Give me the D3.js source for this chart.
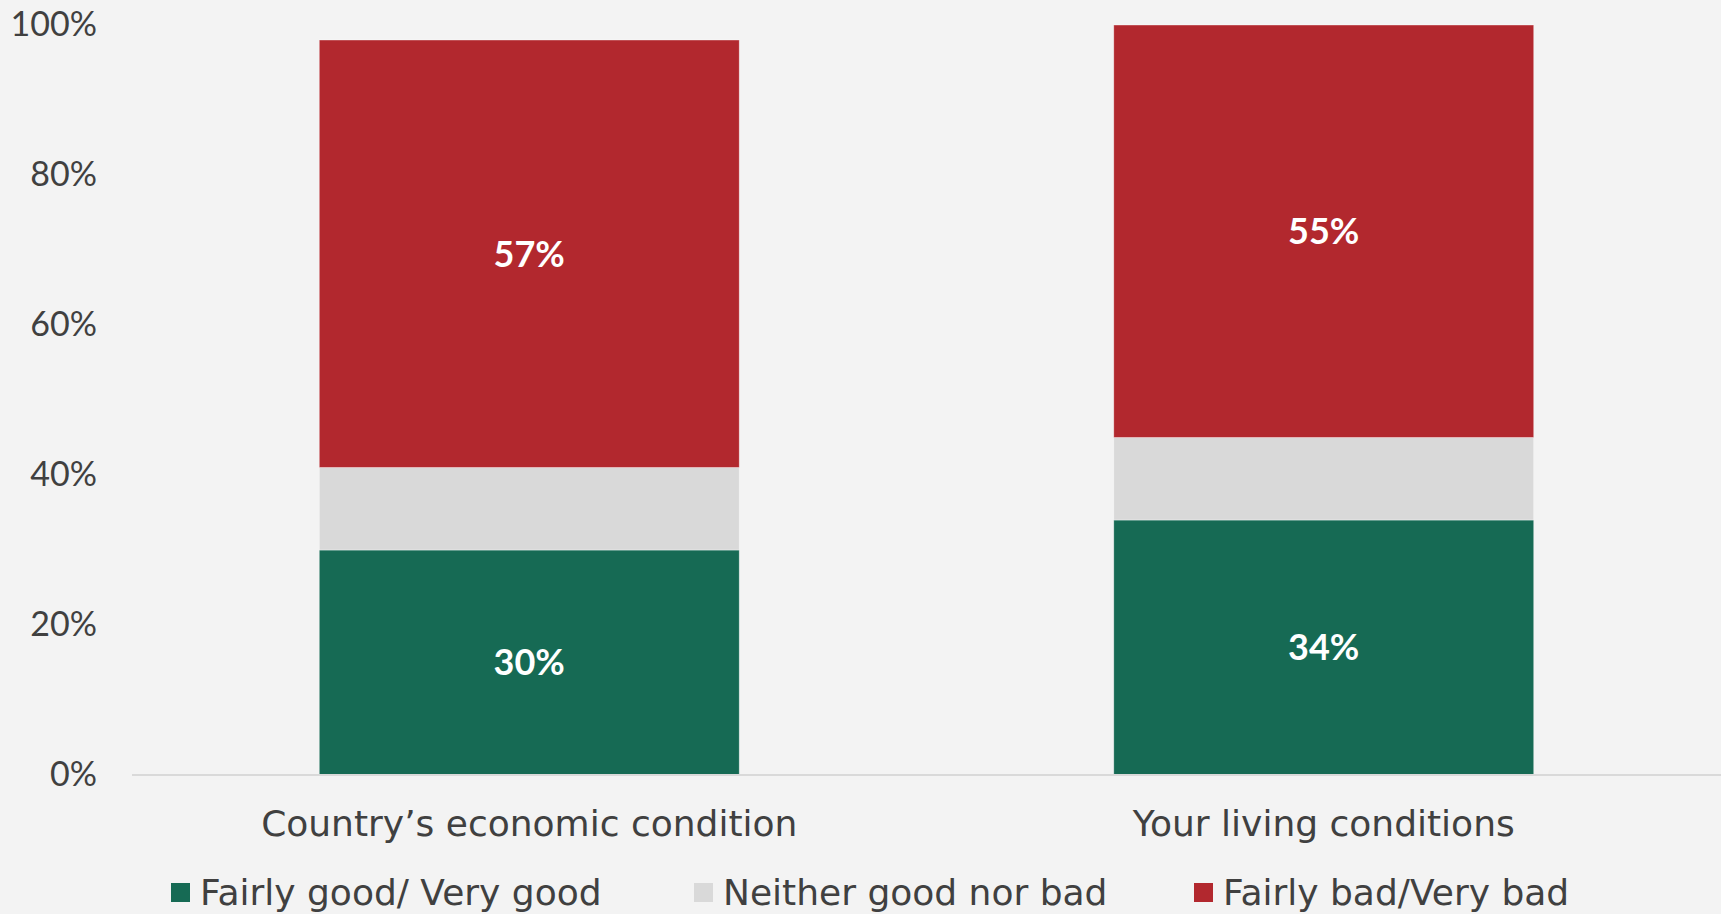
<!DOCTYPE html>
<html>
<head>
<meta charset="utf-8">
<script src="https://cdn.jsdelivr.net/npm/d3@7"></script>
<style>
  html, body { margin: 0; padding: 0; background: #f3f3f3; }
  svg { display: block; }
  text { font-family: "Lato", "Open Sans", sans-serif; }
</style>
</head>
<body>
<svg id="chart" width="1721" height="914"></svg>
<script>
// Survey results: share of respondents per rating, by question
const categories = ["Country’s economic condition", "Your living conditions"];
const seriesNames = ["Fairly good/ Very good", "Neither good nor bad", "Fairly bad/Very bad"];
const good    = [30, 34];
const neither = [11, 11];
const bad     = [57, 55];
const yTicks  = [0, 20, 40, 60, 80, 100];
const labelledSeries = ["Fairly good/ Very good", "Fairly bad/Very bad"];

const colors = ["#166a54", "#d9d9d9", "#b2282e"];
const W = 1721, H = 914;
const margin = { left: 132, right: 0, top: 25, bottom: 139 };
const wordFont = "'DejaVu Sans', Lato, sans-serif";

const svg = d3.select("#chart");
svg.append("rect").attr("width", W).attr("height", H).attr("fill", "#f3f3f3");

const rows = categories.map((c, i) => ({
  category: c,
  [seriesNames[0]]: good[i],
  [seriesNames[1]]: neither[i],
  [seriesNames[2]]: bad[i]
}));
const stacked = d3.stack().keys(seriesNames)(rows);

const x = d3.scaleBand()
  .domain(categories)
  .range([margin.left, W - margin.right])
  .paddingInner(0.4714)
  .paddingOuter(0.2357);

const y = d3.scaleLinear()
  .domain([0, 100])
  .range([H - margin.bottom, margin.top]);

const color = d3.scaleOrdinal().domain(seriesNames).range(colors);

// Y axis: labels only
const yAxis = d3.axisLeft(y)
  .tickValues(yTicks)
  .tickFormat(d => d + "%")
  .tickSize(0)
  .tickPadding(35);
const gy = svg.append("g")
  .attr("transform", `translate(${margin.left},0)`)
  .call(yAxis);
gy.select(".domain").remove();
gy.selectAll("text")
  .attr("fill", "#404040")
  .style("font-size", "34px")
  .style("font-family", "Lato, sans-serif");

// Stacked bars
const layers = svg.append("g").selectAll("g")
  .data(stacked)
  .join("g")
  .attr("fill", d => color(d.key));

layers.selectAll("rect")
  .data(d => d.map(v => ({ key: d.key, v })))
  .join("rect")
  .attr("x", d => x(d.v.data.category))
  .attr("width", x.bandwidth())
  .attr("y", d => y(d.v[1]))
  .attr("height", d => y(d.v[0]) - y(d.v[1]))
  .attr("stroke", "#ffffff")
  .attr("stroke-opacity", 0.5)
  .attr("stroke-width", 0.75);

// Baseline
svg.append("line")
  .attr("x1", margin.left).attr("x2", W - margin.right)
  .attr("y1", y(0)).attr("y2", y(0))
  .attr("stroke", "#d9d9d9")
  .attr("stroke-width", 2);

// Value labels for good and bad segments
const labelData = stacked
  .filter(s => labelledSeries.includes(s.key))
  .flatMap(s => s.map(v => ({ key: s.key, v })));
svg.append("g").selectAll("text")
  .data(labelData)
  .join("text")
  .attr("x", d => x(d.v.data.category) + x.bandwidth() / 2)
  .attr("y", d => (y(d.v[0]) + y(d.v[1])) / 2)
  .attr("dy", "0.36em")
  .attr("text-anchor", "middle")
  .attr("fill", "#ffffff")
  .style("font-size", "36px")
  .style("font-weight", "bold")
  .text(d => (d.v[1] - d.v[0]) + "%");

// Category labels
const xAxis = d3.axisBottom(x).tickSize(0).tickPadding(35);
const gx = svg.append("g")
  .attr("transform", `translate(0,${y(0)})`)
  .call(xAxis);
gx.select(".domain").remove();
gx.selectAll("text")
  .attr("fill", "#404040")
  .style("font-size", "36px")
  .style("font-family", wordFont);

// Legend
const legendX = [171, 694, 1194];
const legendY = 892;
const legend = svg.append("g").selectAll("g")
  .data(seriesNames)
  .join("g")
  .attr("transform", (d, i) => `translate(${legendX[i]},${legendY})`);
legend.append("rect")
  .attr("x", 0).attr("y", -9)
  .attr("width", 19).attr("height", 19)
  .attr("fill", d => color(d));
legend.append("text")
  .attr("x", 29).attr("y", 0)
  .attr("dy", "0.36em")
  .attr("fill", "#404040")
  .style("font-size", "36px")
  .style("font-family", wordFont)
  .text(d => d);
</script>
</body>
</html>
